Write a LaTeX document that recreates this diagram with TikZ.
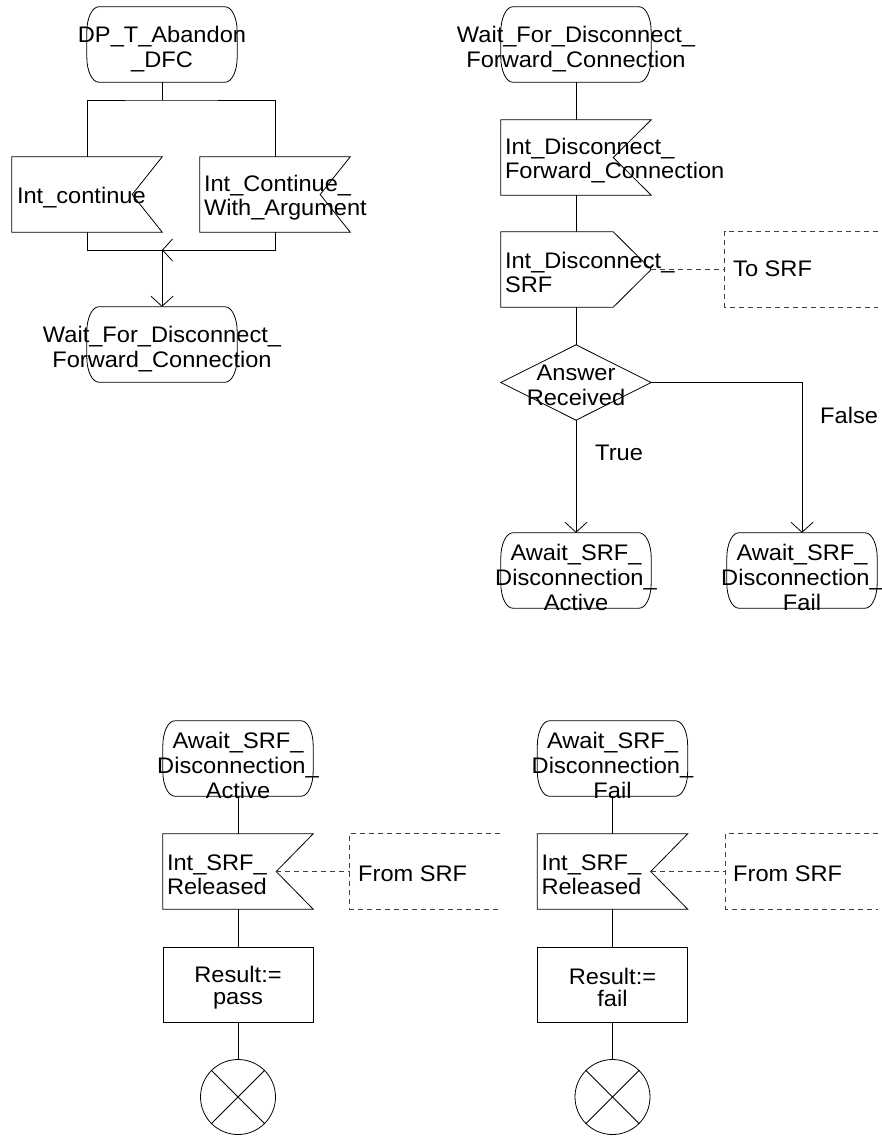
\documentclass[tikz,border=0pt]{standalone}
\usepackage{fontspec}
\setmainfont[FakeStretch=1.05]{Liberation Sans}
\usetikzlibrary{arrows.meta}
\newcommand{\drawstate}[1]{\draw[ln] ([xshift=12pt]#1.north west) -- ([xshift=-12pt]#1.north east) arc[start angle=90,end angle=0,x radius=12pt,y radius=25pt] -- ([yshift=25pt]#1.south east) arc[start angle=0,end angle=-90,x radius=12pt,y radius=25pt] -- ([xshift=12pt]#1.south west) arc[start angle=270,end angle=180,x radius=12pt,y radius=25pt] -- ([yshift=-25pt]#1.north west) arc[start angle=180,end angle=90,x radius=12pt,y radius=25pt] -- cycle;}
\newcommand{\drawinput}[2]{\draw[ln] (#1.north west) -- (#1.north east) -- ([xshift=-#2pt]#1.east) -- (#1.south east) -- (#1.south west) -- cycle;}
\newcommand{\drawoutput}[2]{\draw[ln] (#1.north west) -- ([xshift=-#2pt]#1.north east) -- (#1.east) -- ([xshift=-#2pt]#1.south east) -- (#1.south west) -- cycle;}
\newcommand{\drawcomment}[1]{\draw[dsh] (#1.north east) -- (#1.north west) -- (#1.south west) -- (#1.south east);}
\newcommand{\drawdiamond}[1]{\draw[ln] (#1.north) -- (#1.east) -- (#1.south) -- (#1.west) -- cycle;}
\newcommand{\drawstop}[1]{\draw[ln] (#1.45) -- (#1.225) (#1.135) -- (#1.315);}
\begin{document}
\begin{tikzpicture}[x=1pt,y=1pt,
  every node/.style={font=\fontsize{22.5}{24.5}\selectfont},
  shp/.style={draw=none, inner sep=0pt, minimum width=150pt, minimum height=75pt},
  taskbox/.style={draw, line width=0.8pt, inner sep=0pt, minimum width=150pt, minimum height=75pt},
  stopc/.style={draw, circle, line width=0.8pt, inner sep=0pt, minimum size=75pt},
  cmbox/.style={draw=none, inner sep=0pt, minimum width=153pt, minimum height=75pt},
  txt/.style={inner sep=0pt, align=center, yshift=-3pt},
  stxt/.style={inner sep=0pt, align=center, yshift=-5pt, font=\fontsize{22.5}{25}\selectfont},
  stxtiii/.style={stxt, yshift=-1.5pt},
  ltxt/.style={inner sep=0pt, align=left, anchor=west, yshift=-3pt},
  lbl/.style={inner sep=0pt, anchor=west},
  ln/.style={line width=0.8pt, black},
  arr/.style={ln, -{Straight Barb[length=10pt,width=22pt,line width=0.8pt]}},
  dsh/.style={line width=0.8pt, black!75, dash pattern=on 5pt off 4pt}
]
\useasboundingbox (0,0) rectangle (881,-1147);

% ---------- top left ----------
\node[shp] (s1) at (162,-44.5) {};
\drawstate{s1}
\node[stxt] (s1t) at (s1) {DP\_T\_Abandon\\\_DFC};

\node[shp] (in1) at (87,-194.5) {};
\drawinput{in1}{30}
\node[ltxt] (in1t) at ([xshift=5pt]in1.west) {Int\_continue};

\node[shp] (in2) at (275,-194.5) {};
\drawinput{in2}{30}
\node[ltxt] (in2t) at ([xshift=4pt]in2.west) {Int\_Continue\_\\With\_Argument};

\node[shp] (s2) at (162,-344.5) {};
\drawstate{s2}
\node[stxt] (s2t) at (s2) {Wait\_For\_Disconnect\_\\Forward\_Connection};

\coordinate (fork) at (162,-100);
\coordinate (join) at (162,-250);
\draw[ln] (s1.south) -- (fork);
\draw[ln] (in1.north) |- (fork) -| (in2.north);
\draw[ln] (in1.south) |- (join);
\draw[arr] (in2.south) |- (join);
\draw[arr] (join) -- (s2.north);

% ---------- top right ----------
\node[shp] (s3) at (576,-44.5) {};
\drawstate{s3}
\node[stxt] (s3t) at (s3) {Wait\_For\_Disconnect\_\\Forward\_Connection};

\node[shp] (in3) at (576,-157.5) {};
\drawinput{in3}{38}
\node[ltxt] (in3t) at ([xshift=4pt]in3.west) {Int\_Disconnect\_\\Forward\_Connection};

\node[shp] (out1) at (576,-269.5) {};
\drawoutput{out1}{38}
\node[ltxt] (out1t) at ([xshift=4pt]out1.west) {Int\_Disconnect\_\\SRF};

\node[cmbox] (cm1) at (801.5,-269.5) {};
\drawcomment{cm1}
\node[lbl] (cm1t) at (733,-269) {To SRF};

\node[shp] (dia) at (576,-382.5) {};
\drawdiamond{dia}
\node[txt] (diat) at (dia) {Answer\\Received};

\node[shp] (s4) at (576,-570.5) {};
\drawstate{s4}
\node[stxtiii] (s4t) at (s4) {Await\_SRF\_\\Disconnection\_\\Active};

\node[shp] (s5) at (802,-570.5) {};
\drawstate{s5}
\node[stxtiii] (s5t) at (s5) {Await\_SRF\_\\Disconnection\_\\Fail};

\node[lbl] (truel) at (595,-453) {True};
\node[lbl] (falsel) at (820,-415) {False};

\draw[ln] (s3.south) -- (in3.north);
\draw[ln] (in3.south) -- (out1.north);
\draw[dsh] (out1.east) -- (cm1.west);
\draw[ln] (out1.south) -- (dia.north);
\draw[arr] (dia.south) -- (s4.north);
\draw[arr] (dia.east) -| (s5.north);

% ---------- bottom left ----------
\node[shp] (s6) at (238,-758.5) {};
\drawstate{s6}
\node[stxtiii] (s6t) at (s6) {Await\_SRF\_\\Disconnection\_\\Active};

\node[shp] (in4) at (238,-871.5) {};
\drawinput{in4}{37}
\node[ltxt] (in4t) at ([xshift=4pt]in4.west) {Int\_SRF\_\\Released};

\node[cmbox, minimum width=150pt] (cm2) at (425,-871.5) {};
\drawcomment{cm2}
\node[lbl] (cm2t) at (358,-874) {From SRF};

\node[taskbox] (t1) at (238,-984.5) {};
\node[txt, font=\fontsize{22.5}{22}\selectfont] (t1t) at (t1) {Result:=\\pass};

\node[stopc] (stop1) at (238,-1097) {};
\drawstop{stop1}

\draw[ln] (s6.south) -- (in4.north);
\draw[dsh] ([xshift=-37pt]in4.east) -- (cm2.west);
\draw[ln] (in4.south) -- (t1.north);
\draw[ln] (t1.south) -- (stop1.north);

% ---------- bottom right ----------
\node[shp] (s7) at (612.5,-758.5) {};
\drawstate{s7}
\node[stxtiii] (s7t) at (s7) {Await\_SRF\_\\Disconnection\_\\Fail};

\node[shp] (in5) at (612.5,-871.5) {};
\drawinput{in5}{37}
\node[ltxt] (in5t) at ([xshift=4pt]in5.west) {Int\_SRF\_\\Released};

\node[cmbox, minimum width=152pt] (cm3) at (802,-871.5) {};
\drawcomment{cm3}
\node[lbl] (cm3t) at (733,-874) {From SRF};

\node[taskbox] (t2) at (612.5,-984.5) {};
\node[txt, font=\fontsize{22.5}{22}\selectfont] (t2t) at (t2) {Result:=\\fail};

\node[stopc] (stop2) at (612.5,-1097) {};
\drawstop{stop2}

\draw[ln] (s7.south) -- (in5.north);
\draw[dsh] ([xshift=-37pt]in5.east) -- (cm3.west);
\draw[ln] (in5.south) -- (t2.north);
\draw[ln] (t2.south) -- (stop2.north);
\end{tikzpicture}
\end{document}
